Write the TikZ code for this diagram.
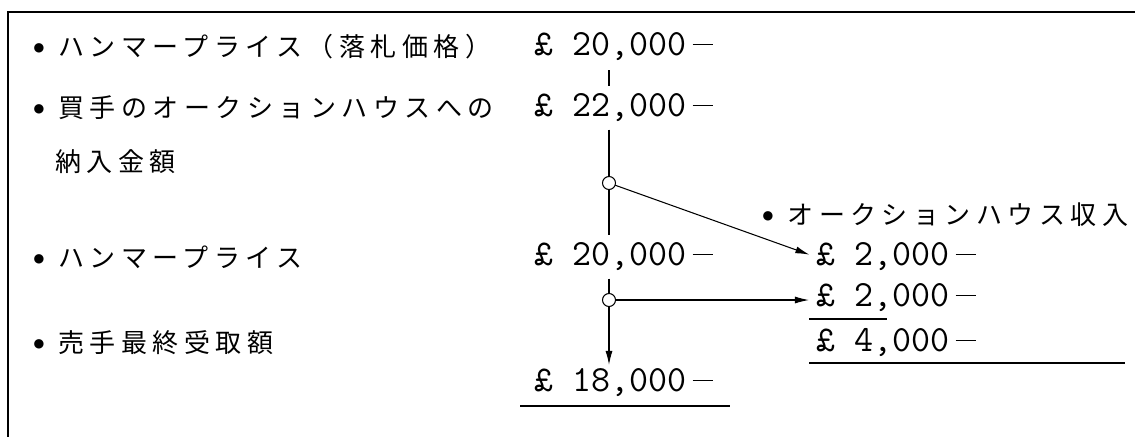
\documentclass[tikz,border=0pt]{standalone}
\usepackage{fontspec}
\newfontfamily\jp[LetterSpace=21]{Noto Sans CJK JP}
\newfontfamily\dv{DejaVu Sans}
\usetikzlibrary{arrows.meta,positioning}
\newcommand{\pnd}[1]{£ #1\,\rule[0.3em]{0.55em}{0.5pt}}
\newcommand{\bul}{\raisebox{0.2em}{\dv\fontsize{7}{7}\selectfont ●}\hspace{0.55em}}

\begin{document}
\begin{tikzpicture}[x=0.02cm,y=-0.02cm,>={Latex[length=2.8mm,width=1.4mm]},
  lbl/.style={anchor=west,inner sep=0pt,font=\jp\fontsize{14.8}{18}\selectfont},
  amt/.style={anchor=west,inner sep=0pt,font=\ttfamily\fontsize{21}{24}\selectfont},
  knot/.style={circle,draw,fill=white,inner sep=0pt,minimum size=0.26cm},
  every path/.style={line width=0.6pt}]
\useasboundingbox (0,0) rectangle (1135,437);
% frame (top and left only)
\draw (1135,12) -- (8,12) -- (8,437);
% left labels
\node[lbl] (l1) at (33,47) {\bul ハンマープライス（落札価格）};
\node[lbl] (l2) at (33,108) {\bul 買手のオークションハウスへの};
\node[lbl] (l2b) at (55,162) {納入金額};
\node[lbl] (l3) at (33,257) {\bul ハンマープライス};
\node[lbl] (l4) at (33,343) {\bul 売手最終受取額};
% amounts
\node[amt] (a1) at (534,47) {\pnd{20,000}};
\node[amt] (a2) at (534,108) {\pnd{22,000}};
\node[amt] (a3) at (534,257) {\pnd{20,000}};
\node[amt] (a4) at (534,383) {\pnd{18,000}};
\node[lbl] (rh) at (762,215) {\bul オークションハウス収入};
\node[amt] (r1) at (816,257) {\pnd{2,000}};
\node[amt] (r2) at (816,298) {\pnd{2,000}};
\node[amt] (r3) at (816,343) {\pnd{4,000}};
\coordinate (k1) at (609,183);
\coordinate (k2) at (609,300);
% flow
\draw[shorten <=5pt,shorten >=4pt] (a1.south -| k1) -- (a2.north -| k1);
\draw[shorten <=4pt,shorten >=4pt] (a2.south -| k1) -- (a3.north -| k1);
\draw[->,shorten <=4pt,shorten >=2pt] (a3.south -| k2) -- (a4.north -| k2);
\draw[->,shorten >=4pt] (k1) -- (r1.west);
\draw[->,shorten >=4pt] (k2) -- (k2 -| r2.west);
\node[knot] at (k1) {};
\node[knot] at (k2) {};
% totals
\draw (809,319) -- (887,319);
\draw (809,363) -- (1125,363);
\draw (520,406) -- (730,406);
\end{tikzpicture}
\end{document}
